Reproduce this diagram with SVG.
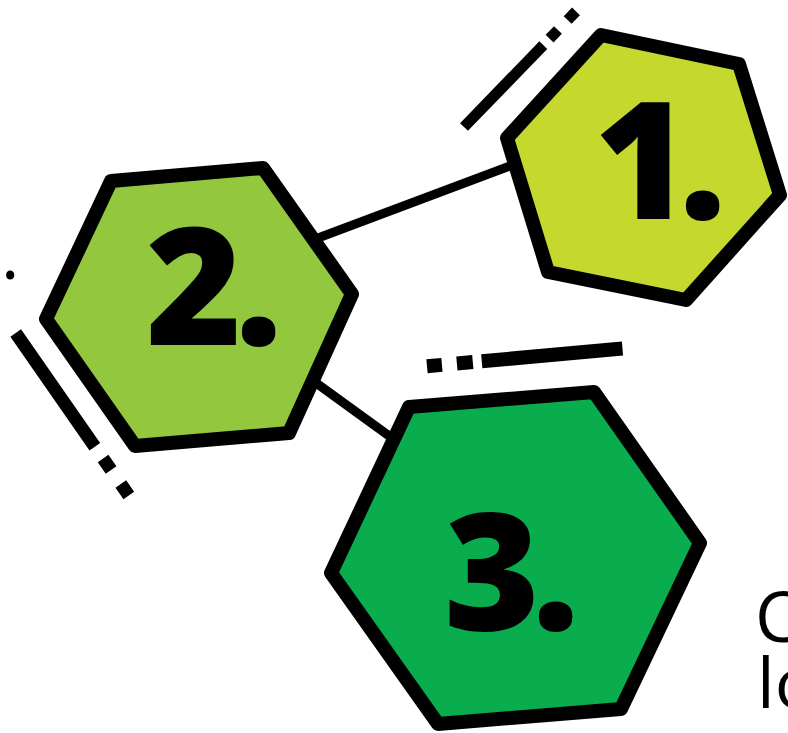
<svg xmlns="http://www.w3.org/2000/svg" width="788" height="733" viewBox="0 0 788 733">
<style>
.hex{stroke:#000;stroke-width:14;stroke-linejoin:round}
.num{font-family:"Open Sans","DejaVu Sans",sans-serif;font-weight:800;font-size:164px;fill:#000}
.conn{stroke:#000;stroke-width:9;fill:none}
.deco{stroke:#000;fill:none;stroke-linecap:butt}
.txt{font-family:"Open Sans","Liberation Sans",sans-serif;font-size:70px;fill:#000}
</style>
<rect width="788" height="733" fill="#fff"/>
<g id="connectors">
<line class="conn" x1="318" y1="238" x2="510" y2="166"/>
<line class="conn" x1="312" y1="380" x2="392" y2="438"/>
</g>
<g id="decorations">
<line class="deco" stroke-width="11" stroke-dasharray="114 9 12 14 12 100" x1="464" y1="127" x2="576" y2="11.4"/>
<line class="deco" stroke-width="13" stroke-dasharray="138.5 14.5 14 17 14 100" x1="15.7" y1="333" x2="129" y2="495.8"/>
<line class="deco" stroke-width="14" stroke-dasharray="15 15 16 9 141.3 100" x1="427" y1="366.2" x2="622.5" y2="348.5"/>
</g>
<g id="node1">
<polygon class="hex" fill="#c5d82e" points="601,35 739,64 780,195 686,300 548,272 507,138"/>
<text class="num" x="594 679" y="219">1.</text>
</g>
<g id="node2">
<polygon class="hex" fill="#93c83e" points="111,181 263,168 352,294 289,433 135,446 46,319"/>
<text class="num" x="146 235" y="345">2.</text>
</g>
<g id="node3">
<polygon class="hex" fill="#0aad4e" points="409,407 594,392 700,543 621,709 438,724 331,573"/>
<text class="num" x="444 532" y="630">3.</text>
</g>
<g id="texts">
<text class="txt" x="1" y="279">.</text>
<text class="txt" x="755" y="642">C</text>
<text class="txt" x="757" y="708">lo</text>
</g>
</svg>
